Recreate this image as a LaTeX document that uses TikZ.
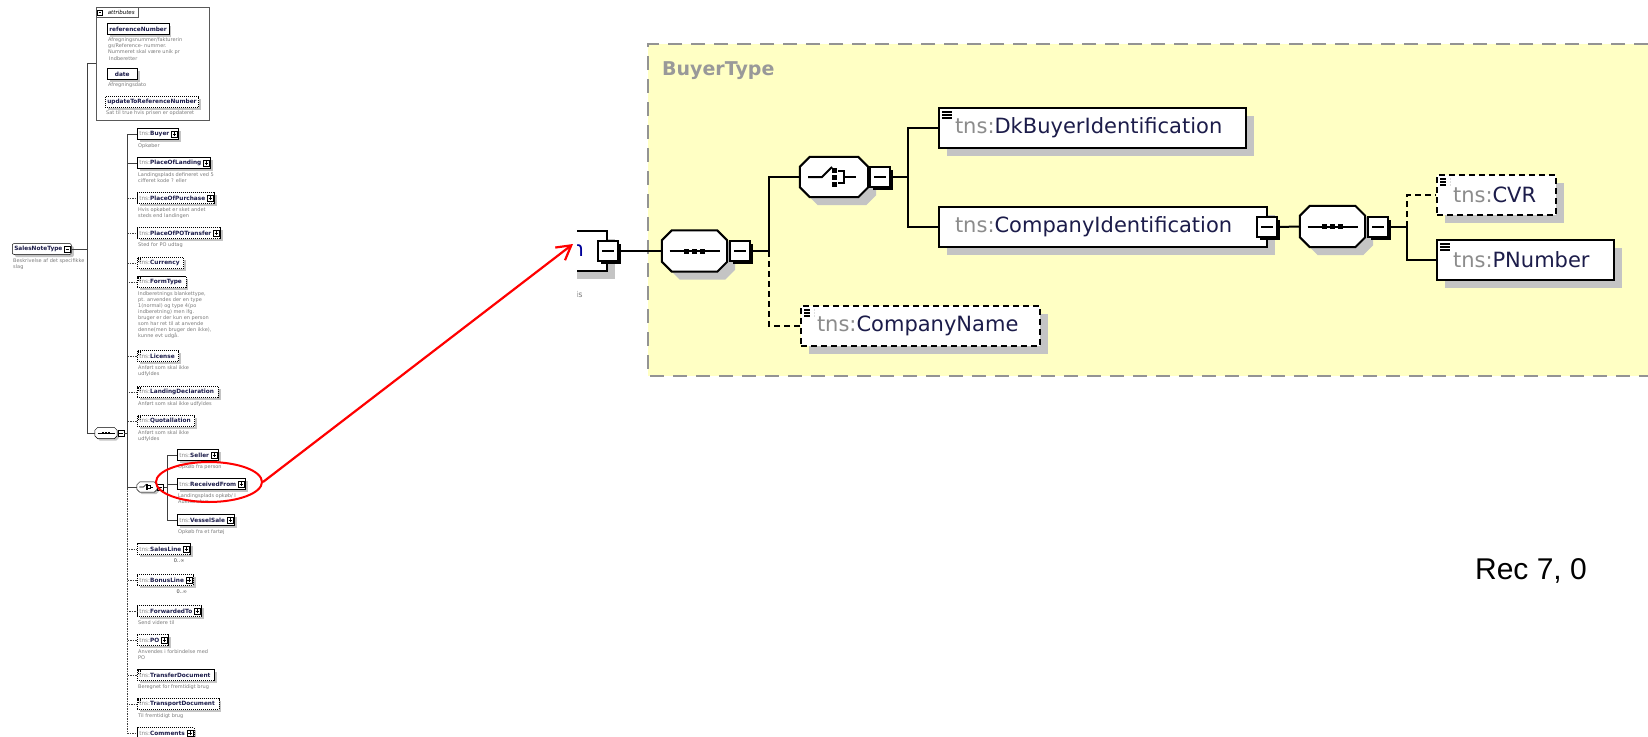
\documentclass[tikz,border=0pt]{standalone}
\usepackage{fontspec}
\setmainfont{DejaVu Sans}
\newfontfamily\arialfont{Liberation Sans}
\usetikzlibrary{positioning,shadows,shapes.geometric,arrows.meta}

\definecolor{tnsgray}{HTML}{8C8C8C}
\definecolor{namecol}{HTML}{1C1C4A}
\definecolor{desccol}{HTML}{7A7A7A}
\definecolor{panelcol}{HTML}{FFFFC4}
\definecolor{shadecol}{HTML}{C4C4C4}

\newcommand{\ltns}[1]{{\color{tnsgray}tns:}{\bfseries\color{namecol}#1}}
\newcommand{\rtns}[1]{{\color{tnsgray}tns:}{\color{namecol}#1}}
% octagon round a node: node, cut, dx, dy, options
\newcommand{\octshape}[5]{\path[#5] ([xshift=#3+#2,yshift=#4]#1.north west) -- ([xshift=#3-#2,yshift=#4]#1.north east) -- ([xshift=#3,yshift=#4-#2]#1.north east) -- ([xshift=#3,yshift=#4+#2]#1.south east) -- ([xshift=#3-#2,yshift=#4]#1.south east) -- ([xshift=#3+#2,yshift=#4]#1.south west) -- ([xshift=#3,yshift=#4+#2]#1.south west) -- ([xshift=#3,yshift=#4-#2]#1.north west) -- cycle;}
\newcommand{\octo}[4]{\octshape{#1}{#2}{#3}{-#3}{fill=shadecol}\octshape{#1}{#2}{0}{0}{draw,fill=white,line width=#4}}

\tikzset{
  lel/.style={draw, fill=white, line width=.5pt, anchor=west, minimum height=11pt, minimum width=30pt,
    inner xsep=2pt, inner ysep=1pt, font=\fontsize{5.8}{6.5}\selectfont,
    drop shadow={shadow xshift=2.5pt, shadow yshift=-2.5pt, fill=shadecol, opacity=1}},
  lopt/.style={lel, dash pattern=on 1.2pt off .8pt},
  ldesc/.style={anchor=north west, inner sep=0pt, align=left, text=desccol, font=\fontsize{5}{6.1}\selectfont},
  lmark/.style={path picture={\foreach \k in {0,1,2}
    \draw[line width=.35pt] ([xshift=1pt,yshift=-\k*1.1pt-1pt]path picture bounding box.north west) -- ++(3pt,0);}},
  lbtn/.style={draw, fill=white, line width=.45pt, minimum size=6pt, inner sep=0pt,
    drop shadow={shadow xshift=.8pt, shadow yshift=-.8pt, fill=black, opacity=1}},
  lplus/.style={lbtn, path picture={\draw[line width=.45pt]
    ([xshift=1.2pt]path picture bounding box.west) -- ([xshift=-1.2pt]path picture bounding box.east)
    ([yshift=-1.2pt]path picture bounding box.north) -- ([yshift=1.2pt]path picture bounding box.south);}},
  lminus/.style={lbtn, path picture={\draw[line width=.45pt]
    ([xshift=1.2pt]path picture bounding box.west) -- ([xshift=-1.2pt]path picture bounding box.east);}},
  ltree/.style={line width=.6pt, draw=black!75},
  ldash/.style={ltree, dash pattern=on 1.5pt off 1pt},
  rel/.style={draw, fill=white, line width=2pt, anchor=west, minimum height=40pt, inner xsep=16pt, inner ysep=0pt,
    text width=#1pt-32pt, align=left, font=\fontsize{21}{24}\selectfont,
    drop shadow={shadow xshift=8pt, shadow yshift=-8pt, fill=shadecol, opacity=1}},
  ropt/.style={rel=#1, dash pattern=on 6pt off 4pt},
  rmark/.style={path picture={\foreach \k in {0,1,2}
    \draw[line width=1.3pt] ([xshift=3pt,yshift=-\k*3pt-4pt]path picture bounding box.north west) -- ++(10pt,0);}},
  rbtn/.style={draw, fill=white, line width=1.5pt, minimum size=20pt, inner sep=0pt,
    drop shadow={shadow xshift=3pt, shadow yshift=-3pt, fill=black, opacity=1},
    path picture={\draw[line width=1.5pt]
      ([xshift=4pt]path picture bounding box.west) -- ([xshift=-4pt]path picture bounding box.east);}},
  rtree/.style={line width=2pt},
  rdash/.style={rtree, dash pattern=on 6pt off 4pt},
  seqglyph/.pic={
    \draw (-25,0) -- (25,0);
    \foreach \i in {-8,0,8} \fill (\i-2.5,-2.5) rectangle ++(5,5);
  },
  choiceglyph/.pic={
    \draw (-26,0) -- (-12,0) -- (-2,-10);
    \foreach \j in {-9.5,-2.5,4.5} \fill (-2,\j) rectangle ++(5,5);
    \draw (4,-6) -- (10,-6) -- (10,6) -- (4,6) (10,0) -- (22,0);
  }
}

\begin{document}
\begin{tikzpicture}[x=1pt, y=-1pt]
\useasboundingbox (0,0) rectangle (1648,736);

% yellow panel
\fill[panelcol] (648,44) rectangle (1648,376);
\draw[gray!85, line width=2.5pt, dash pattern=on 14pt off 9pt] (1648,44) -- (648,44) -- (648,376) -- (1648,376);
\node[anchor=west, text=gray!80, font=\bfseries\fontsize{19}{22}\selectfont, inner sep=0] (ptitle) at (662,71) {BuyerType};

% ---------- left: SalesNoteType ----------
\node[lel, rounded corners=2pt] (root) at (12,249) {\bfseries\color{namecol}SalesNoteType\hspace*{7pt}};
\node[lminus] (rootm) at ([xshift=-4pt]root.east) {};
\node[ldesc, below right=4pt and 1pt of root.south west] (rootd) {Beskrivelse af det specifikke\\slag};

\node[draw=gray!70!black, line width=.5pt, minimum width=113pt, minimum height=113pt, anchor=north west, inner sep=0] (attr) at (96,7) {};
\node[draw=gray!70!black, fill=white, line width=.5pt, anchor=north west, minimum width=42pt, minimum height=10pt,
  inner sep=0pt, font=\itshape\fontsize{5.5}{6}\selectfont] (attrtab) at (96,7) {\hspace*{8pt}attributes};
\node[lminus, minimum size=5pt] (attrm) at ([xshift=4pt]attrtab.west) {};

\node[lel] (aref) at (107,29) {\bfseries\color{namecol}referenceNumber};
\node[ldesc, below right=3pt and 1pt of aref.south west] (arefd) {Afregningsnummer/fakturerin\\gs/Reference- nummer.\\Nummeret skal være unik pr\\\hspace*{1pt}Indberetter};
\node[lel] (adate) at (107,74) {\bfseries\color{namecol}date};
\node[ldesc, below right=3pt and 1pt of adate.south west] (adated) {Afregningsdato};
\node[lopt] (aupd) at (105,102) {\bfseries\color{namecol}updateToReferenceNumber};
\node[ldesc, below right=3pt and 1pt of aupd.south west] (aupdd) {Sat til true hvis prisen er opdateret};

% sequence
\node[inner sep=0, minimum width=22pt, minimum height=11pt] (lseq) at (106,433) {};
\octo{lseq}{3}{2}{.5pt}
\pic[scale=.34, line width=.7pt] at (lseq) {seqglyph};
\node[lminus] (lseqm) at (121,433) {};

\coordinate (t0) at (87,249);
\coordinate (t1) at (127,433);
\draw[ltree] (rootm.east) -- (t0) |- (attr.west);
\draw[ltree] (t0) |- (lseq.west);

\foreach \yy/\nm/\ds in {134/Buyer/Opkøber, 163/PlaceOfLanding/{Landingsplads defineret ved 5\\cifferet kode ? eller}} {
  \node[lel] (e\nm) at (137,\yy) {\ltns{\nm}\hspace*{7pt}};
  \node[lplus] (p\nm) at ([xshift=-4pt]e\nm.east) {};
  \node[ldesc, below right=3.5pt and 1pt of e\nm.south west] (d\nm) {\ds};
  \draw[ltree] (lseqm.east) -- (t1) |- (e\nm.west);
}
\foreach \yy/\nm/\ds in {198/PlaceOfPurchase/{Hvis opkøbet er sket  andet\\steds end landingen}, 233/PlaceOfPOTransfer/Sted for PO udtag,
    611/ForwardedTo/Send videre til, 640/PO/{Anvendes i forbindelse med\\PO}} {
  \node[lopt] (e\nm) at (137,\yy) {\ltns{\nm}\hspace*{7pt}};
  \node[lplus] (p\nm) at ([xshift=-4pt]e\nm.east) {};
  \node[ldesc, below right=3.5pt and 1pt of e\nm.south west] (d\nm) {\ds};
  \draw[ldash] (t1) |- (e\nm.west);
}
\foreach \yy/\nm/\ds in {282/FormType/{Indberetnings blankettype,\\pt. anvendes der en type\\1(normal) og type 4(po\\indberetning) men ifg.\\bruger er der kun en person\\som har ret til at anvende\\denne(men bruger den ikke),\\kunne evt udgå.},
    356/License/{Anført som skal ikke\\udfyldes}, 392/LandingDeclaration/Anført som skal ikke udfyldes,
    421/Quotallation/{Anført som skal ikke\\udfyldes}, 675/TransferDocument/Beregnet for fremtidigt brug,
    704/TransportDocument/Til fremtidigt brug} {
  \node[lopt, lmark] (e\nm) at (137,\yy) {\ltns{\nm}\hspace*{2pt}};
  \node[ldesc, below right=3.5pt and 1pt of e\nm.south west] (d\nm) {\ds};
  \draw[ldash] (t1) |- (e\nm.west);
}
\node[lopt, lmark] (eCurrency) at (137,263) {\ltns{Currency}\hspace*{2pt}};
\draw[ldash] (t1) |- (eCurrency.west);
\foreach \yy/\nm in {549/SalesLine, 580/BonusLine} {
  \node[lopt] (e\nm) at (137,\yy) {\ltns{\nm}\hspace*{7pt}};
  \node[lplus] (p\nm) at ([xshift=-4pt]e\nm.east) {};
  \node[ldesc, text=black!80, below left=3.5pt and 6pt of e\nm.south east] (d\nm) {0..∞};
  \draw[ldash] (t1) |- (e\nm.west);
}
\node[lopt] (eComments) at (137,733) {\ltns{Comments}\hspace*{7pt}};
\node[lplus] (pComments) at ([xshift=-4pt]eComments.east) {};
\draw[ldash] (t1) |- (eComments.west);

% choice
\node[inner sep=0, minimum width=20pt, minimum height=10pt] (lch) at (147,487) {};
\octo{lch}{3}{2}{.5pt}
\pic[scale=.29, line width=.6pt] at (lch) {choiceglyph};
\node[lminus] (lchm) at (160.5,487) {};
\coordinate (t2) at (167,487);
\draw[ltree] (t1) |- (lch.west);
\foreach \yy/\nm/\ds in {455/Seller/Opkøb fra person, 484/ReceivedFrom/{Landingsplads opkøb/ I\\Auktionshus}, 520/VesselSale/Opkøb fra et fartøj} {
  \node[lel] (e\nm) at (177,\yy) {\ltns{\nm}\hspace*{7pt}};
  \node[lplus] (p\nm) at ([xshift=-4pt]e\nm.east) {};
  \node[ldesc, below right=3.5pt and 1pt of e\nm.south west] (d\nm) {\ds};
  \draw[ltree] (lchm.east) -- (t2) |- (e\nm.west);
}

% ---------- right: BuyerType ----------
\begin{scope}
\clip (577,0) rectangle (1648,736);
\node[rel=100, anchor=east, align=right, text=blue!60!black] (rref) at (608,251) {n\hspace*{7pt}};
\node[anchor=north west, text=desccol, font=\fontsize{8}{9}\selectfont, inner sep=0] (rrefd) at (576,291) {is};
\end{scope}
\node[rbtn] (rrefm) at (608,251) {};

\node[inner sep=0, minimum width=65pt, minimum height=41pt] (rs1) at (694.5,251) {};
\octo{rs1}{10}{8}{2pt}
\pic[line width=2pt] at (rs1) {seqglyph};
\node[rbtn] (rs1m) at (740,251) {};
\draw[rtree] (rrefm.east) -- (rs1.west);

\node[inner sep=0, minimum width=68pt, minimum height=40pt] (rch) at (834,177) {};
\octo{rch}{10}{8}{2pt}
\pic[line width=2pt] at (rch) {choiceglyph};
\node[rbtn] (rchm) at (880,177) {};

\node[rel=307, rmark] (dkb) at (938,128) {\rtns{DkBuyerIdentification}};
\node[rel=328] (cid) at (938,226.5) {\rtns{CompanyIdentification}};
\node[rbtn] (cidm) at (1267,227) {};
\node[ropt=239, rmark] (cname) at (800,326) {\rtns{CompanyName}};

\coordinate (t3) at (769,251);
\coordinate (t4) at (908,177);
\draw[rtree] (rs1m.east) -- (t3) |- (rch.west);
\draw[rdash] (t3) |- (cname.west);
\draw[rtree] (rchm.east) -- (t4) |- (dkb.west);
\draw[rtree] (t4) |- (cid.west);

\node[inner sep=0, minimum width=65pt, minimum height=41pt] (rs2) at (1332.5,226.5) {};
\octo{rs2}{10}{8}{2pt}
\pic[line width=2pt] at (rs2) {seqglyph};
\node[rbtn] (rs2m) at (1378,227) {};
\draw[rtree] (cidm.east) -- (rs2.west);

\node[ropt=119, rmark] (cvr) at (1436,195) {\rtns{CVR}};
\node[rel=177, rmark] (pnum) at (1436,260) {\rtns{PNumber}};
\coordinate (t5) at (1407,227);
\draw[rtree] (rs2m.east) -- (t5) |- (pnum.west);
\draw[rdash] (t5) |- (cvr.west);

\node[font=\arialfont\fontsize{30}{34}\selectfont, inner sep=0] (rec) at (1531,571) {Rec 7, 0};

% red mark
\node[draw=red, line width=2pt, ellipse, minimum width=106pt, minimum height=40pt, inner sep=0] (hl) at (209,482) {};
\coordinate (hltip) at (573,244);
\draw[red, line width=2.2pt, -{Straight Barb[length=14pt, width=16pt]}] (hl.east) -- (hltip);
\end{tikzpicture}
\end{document}
